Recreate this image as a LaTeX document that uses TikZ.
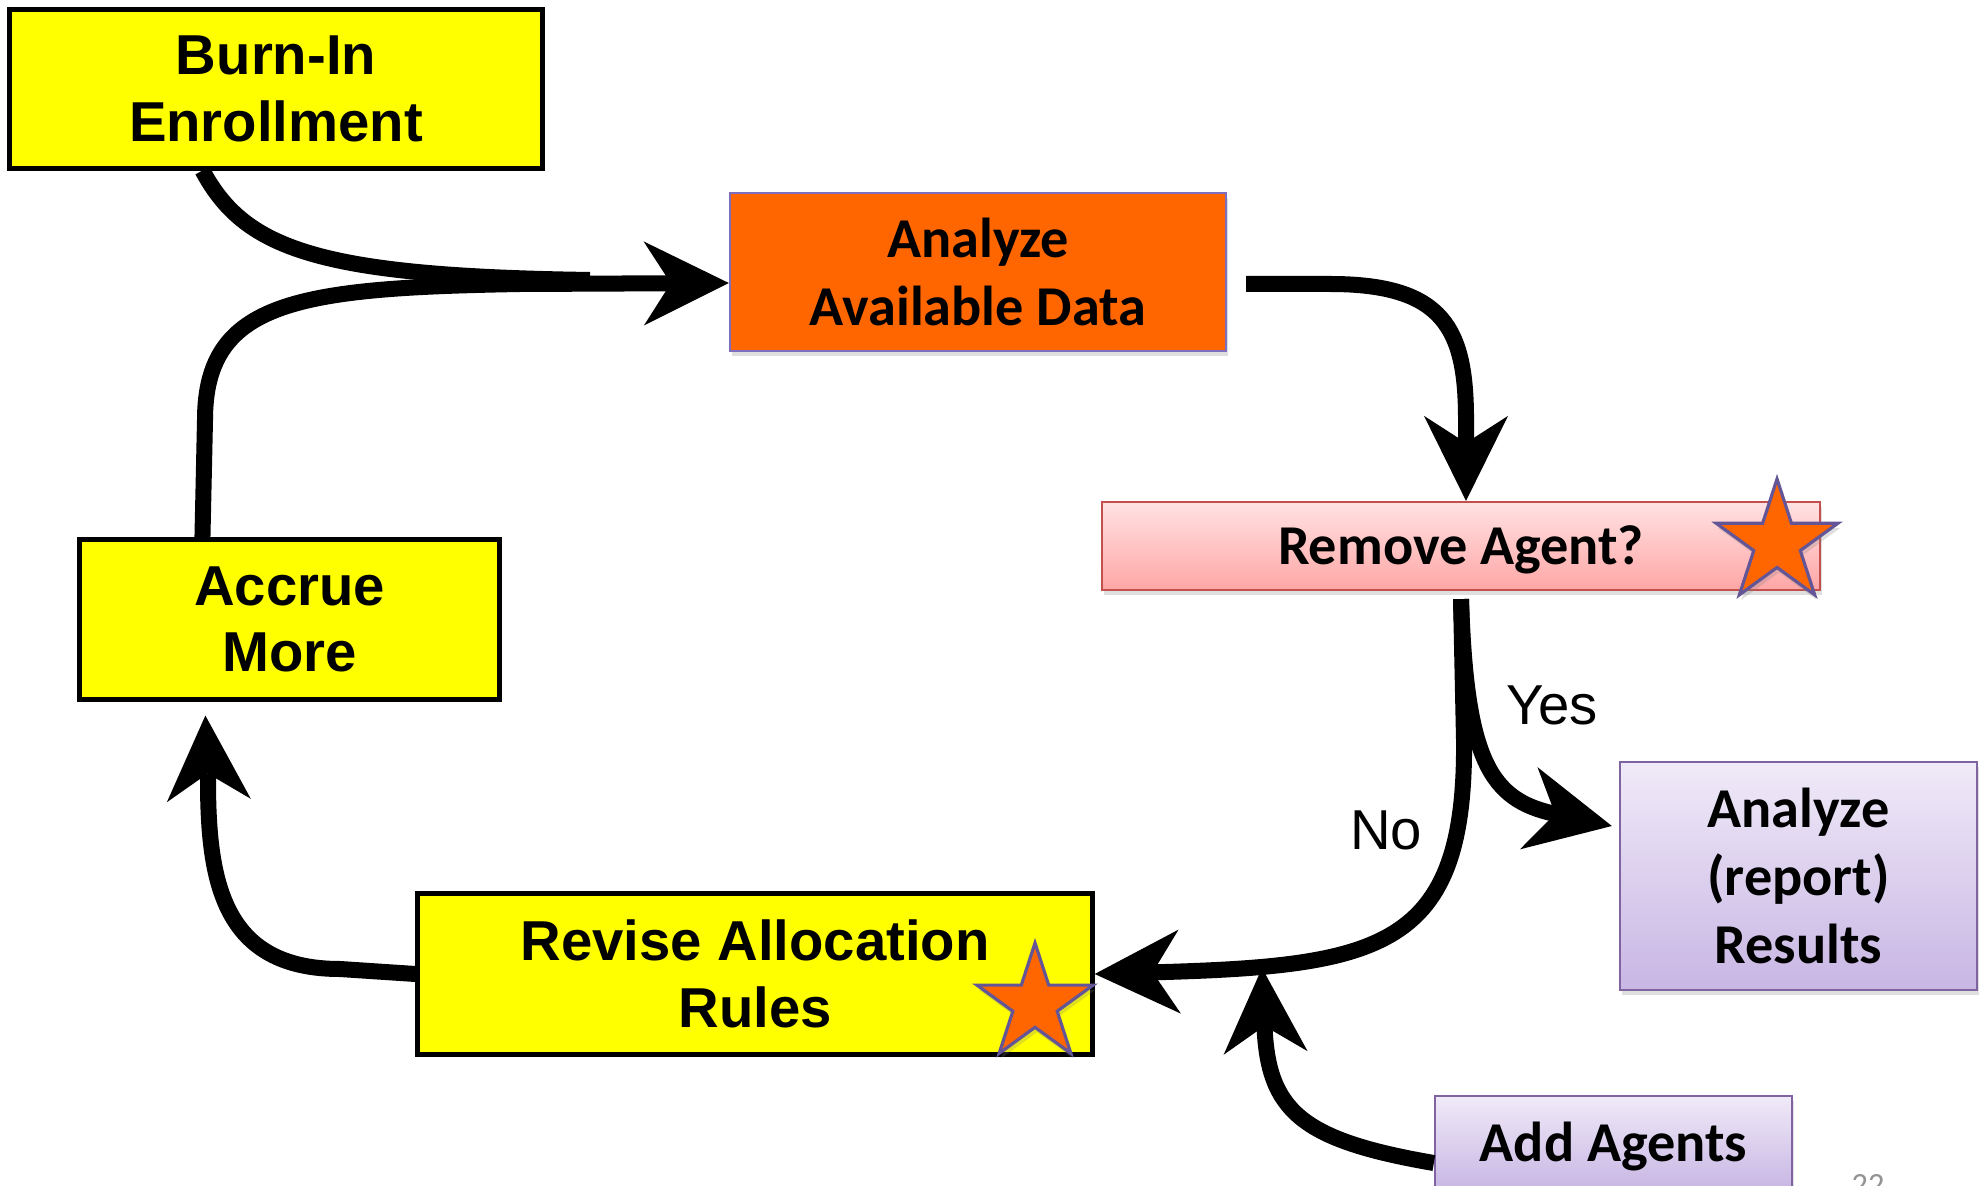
\documentclass[tikz,border=0pt]{standalone}
\usepackage{fontspec}
\setmainfont{Liberation Sans}
\newfontfamily\calfont{Carlito}
\usetikzlibrary{positioning,arrows.meta,shapes.geometric,shadows,calc}

\definecolor{boxyellow}{RGB}{255,255,0}
\definecolor{anaorange}{RGB}{255,102,0}
\definecolor{anaedge}{RGB}{125,110,190}
\definecolor{pinktop}{RGB}{255,226,226}
\definecolor{pinkbot}{RGB}{255,166,166}
\definecolor{pinkedge}{RGB}{196,80,77}
\definecolor{lilactop}{RGB}{240,234,248}
\definecolor{lilacbot}{RGB}{200,182,228}
\definecolor{lilacedge}{RGB}{128,100,162}
\definecolor{staredge}{RGB}{100,85,150}

\begin{document}
\begin{tikzpicture}[x=0.01cm,y=-0.01cm,
  yellowbox/.style={draw=black,line width=0.05cm,fill=boxyellow,align=center,
    inner sep=0pt,font=\fontsize{16}{19}\selectfont\bfseries},
  calbox/.style={align=center,inner sep=0pt,line width=0.6pt,
    font=\calfont\fontsize{16}{19.4}\selectfont\bfseries,
    drop shadow={opacity=0.25,shadow xshift=0.02cm,shadow yshift=-0.05cm}},
  oneline/.style={text height=13.5pt,text depth=3pt},
  pinkbox/.style={calbox,draw=pinkedge,top color=pinktop,bottom color=pinkbot},
  lilacbox/.style={calbox,draw=lilacedge,top color=lilactop,bottom color=lilacbot},
  orangestar/.style={star,star points=5,star point ratio=2.618,inner sep=0pt,
    fill=anaorange,draw=staredge,line width=0.9pt,
    drop shadow={opacity=0.25,shadow xshift=0.02cm,shadow yshift=-0.05cm}},
  flowline/.style={line width=0.16cm},
  flow/.style={flowline,-{Stealth[length=0.85cm,width=0.84cm,inset=0.27cm,line width=0pt]}},
  answer/.style={font=\fontsize{16}{19}\selectfont}]
\useasboundingbox (0,0) rectangle (1986,1186);

% boxes
\node[yellowbox,minimum width=5.32cm,minimum height=1.58cm] (burn) at (276,89) {Burn-In\\Enrollment};
\node[calbox,draw=anaedge,fill=anaorange,minimum width=4.96cm,minimum height=1.58cm] (ana) at (978,272) {Analyze\\Available Data};
\node[pinkbox,oneline,minimum width=7.18cm,minimum height=0.88cm] (remove) at (1461,546) {Remove Agent?};
\node[yellowbox,minimum width=4.19cm,minimum height=1.59cm] (accrue) at (289.5,619.5) {Accrue\\More};
\node[yellowbox,minimum width=6.74cm,minimum height=1.60cm] (revise) at (755,974) {Revise Allocation\\Rules};
\node[lilacbox,minimum width=3.57cm,minimum height=2.27cm] (results) at (1798.5,876) {Analyze\\(report)\\Results};
\node[lilacbox,oneline,minimum width=3.57cm,minimum height=0.94cm] (add) at (1613.5,1143) {Add Agents};

\node[answer] (yes) at (1552,705) {Yes};
\node[answer] (no) at (1386,830) {No};
\node[font=\calfont\fontsize{9.2}{11}\selectfont,text=gray!85,anchor=base] (pagenum) at (1868,1195) {22};

% connectors
\coordinate (merge) at (590,280);
\coordinate (split) at ([yshift=-0.08cm]remove.south);
\coordinate (join) at (1262,968);

\draw[flowline] ([xshift=1.95cm]burn.south west) .. controls (245,250) and (320,276) .. (merge);
\draw[flow] ([xshift=1.25cm]accrue.north west) -- (205,420) .. controls (205,300) and (300,288) .. (520,284) -- ([yshift=-0.11cm]ana.west);
\draw[flow] ([shift={(19,12)}]ana.east) -- (1330,284) .. controls (1445,284) and (1466,330) .. (1466,420) -- ([xshift=0.05cm]remove.north);
\draw[flow] (split) .. controls (1466,760) and (1490,800) .. ([shift={(-7,-50)}]results.west);
\draw[flow] (split) -- (1464,740) .. controls (1466,950) and (1380,966) .. (revise.east);
\draw[flow] (revise.west) -- (340,969) .. controls (222,969) and (208,880) .. (208,780) -- ([shift={(128,14)}]accrue.south west);
\draw[flow] ([yshift=-0.2cm]add.west) .. controls (1300,1140) and (1268,1110) .. (join);

% stars
\node[orangestar,minimum size=1.28cm] (star1) at (1777,543) {};
\node[orangestar,minimum size=1.22cm] (star2) at (1035,1004) {};
\end{tikzpicture}
\end{document}
